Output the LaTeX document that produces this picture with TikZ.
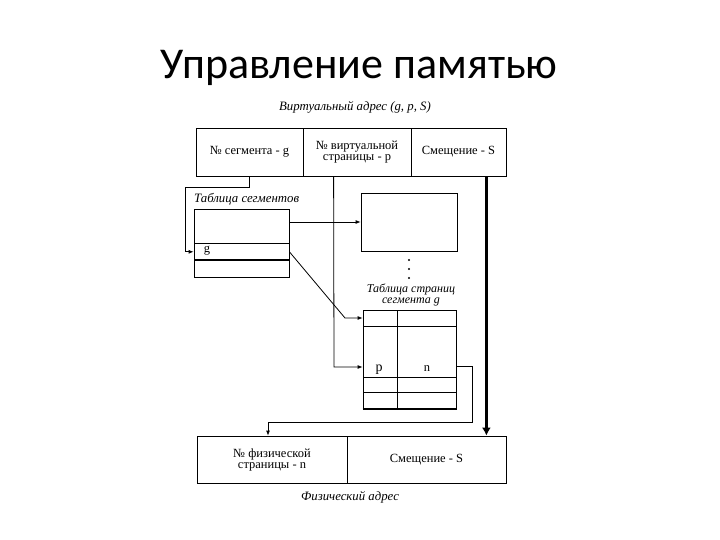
\documentclass[tikz,border=0pt]{standalone}
\usepackage{fontspec}
\setmainfont{Liberation Serif}
\newfontfamily\titlefont{Carlito}
\usetikzlibrary{arrows.meta,calc}
\begin{document}
\begin{tikzpicture}[x=1pt,y=-1pt,
  box/.style={draw,line width=0.8pt,inner sep=0pt,align=center,font=\fontsize{12.5}{13}\selectfont},
  lbl/.style={inner sep=0pt,font=\fontsize{12.8}{13}\selectfont\itshape},
  conn/.style={line width=0.8pt},
  arr/.style={line width=0.8pt,-{Latex[length=5pt,width=4pt]}},
  thickarr/.style={line width=3.5pt,-{Latex[length=8pt,width=9pt]}}]
\useasboundingbox (0,0) rectangle (720,540);
% title
\node[inner sep=0pt,font=\titlefont\fontsize{44}{48}\selectfont] (title) at (359,68) {Управление памятью};
% virtual address
\node[lbl] (vlabel) at (355,107) {Виртуальный адрес (g, p, S)};
\node[box,minimum width=107pt,minimum height=48pt] (seg) at (249.5,152) {№ сегмента - g};
\node[box,minimum width=108pt,minimum height=48pt] (vpg) at (357,152) {№ виртуальной\\[-2pt]страницы - p};
\node[box,minimum width=95pt,minimum height=48pt] (off) at (458.5,152) {Смещение - S};
% segment table
\node[lbl,anchor=west] (segtablbl) at (194,199) {Таблица сегментов};
\node[box,minimum width=95pt,minimum height=34pt] (segtop) at (241.5,226) {};
\node[box,minimum width=95pt,minimum height=16pt,anchor=north] (segG) at (segtop.south) {};
\node[inner sep=0pt,font=\fontsize{12.5}{13}\selectfont] (gtxt) at (207,251) {g};
\node[box,minimum width=95pt,minimum height=17pt,anchor=north] (segbot) at (segG.south) {};
% page table box (other segment)
\node[box,minimum width=96pt,minimum height=58pt] (pgbox) at (409,222) {};
\fill (409,260) circle (1.1pt) (409,269) circle (1.1pt) (409,278) circle (1.1pt);
% page table of segment g
\node[inner sep=0pt,align=center,font=\fontsize{12}{11}\selectfont\itshape] (ptlbl) at (411,294.5) {Таблица страниц\\сегмента g};
\node[box,minimum width=34pt,minimum height=16pt] (pa) at (380,318) {};
\node[box,minimum width=59pt,minimum height=16pt] (pb) at (426.5,318) {};
\node[box,minimum width=34pt,minimum height=51pt] (pc) at (380,351.5) {};
\node[box,minimum width=59pt,minimum height=51pt] (pd) at (426.5,351.5) {};
\node[box,minimum width=34pt,minimum height=15pt] (pe) at (380,384.5) {};
\node[box,minimum width=59pt,minimum height=15pt] (pf) at (426.5,384.5) {};
\node[box,minimum width=34pt,minimum height=17pt] (pg) at (380,400.5) {};
\node[box,minimum width=59pt,minimum height=17pt] (ph) at (426.5,400.5) {};
\draw[line width=2pt] (pg.south west) -- (ph.south east);
\node[inner sep=0pt,font=\fontsize{14}{14}\selectfont] (ptxt) at (379,370) {p};
\node[inner sep=0pt,font=\fontsize{12.5}{13}\selectfont] (ntxt) at (427,369) {n};
% physical address
\node[box,minimum width=150pt,minimum height=47pt] (physN) at (272,459.5) {№ физической\\[-2pt]страницы - n};
\node[box,minimum width=159pt,minimum height=47pt] (physS) at (426.5,459.5) {Смещение - S};
\node[lbl] (plabel) at (350,497) {Физический адрес};
% connectors
\coordinate (c1) at (185,187);
\draw[arr] (seg.south) |- (c1) |- (segG.west);
\draw[arr] (segtop.east |- pgbox.west) -- (pgbox.west);
\coordinate (c2) at (345,318);
\draw[arr] (segG.east) -- (c2) -- (pa.west);
\coordinate (vp) at ($(vpg.south west)+(31,0)$);
\coordinate (c3) at (334,367);
\draw[arr] (vp) -- (c3) -- (c3 -| pc.west);
\coordinate (c4) at (472,366);
\coordinate (c5) at (472,422);
\coordinate (c6) at (268,422);
\draw[arr] (c4 -| pd.east) -- (c4) -- (c5) -- (c6) -- (c6 |- physN.north);
\coordinate (t1) at ($(off.south east)+(-20,0)$);
\draw[thickarr] (t1) -- (t1 |- physS.north);
\end{tikzpicture}
\end{document}
